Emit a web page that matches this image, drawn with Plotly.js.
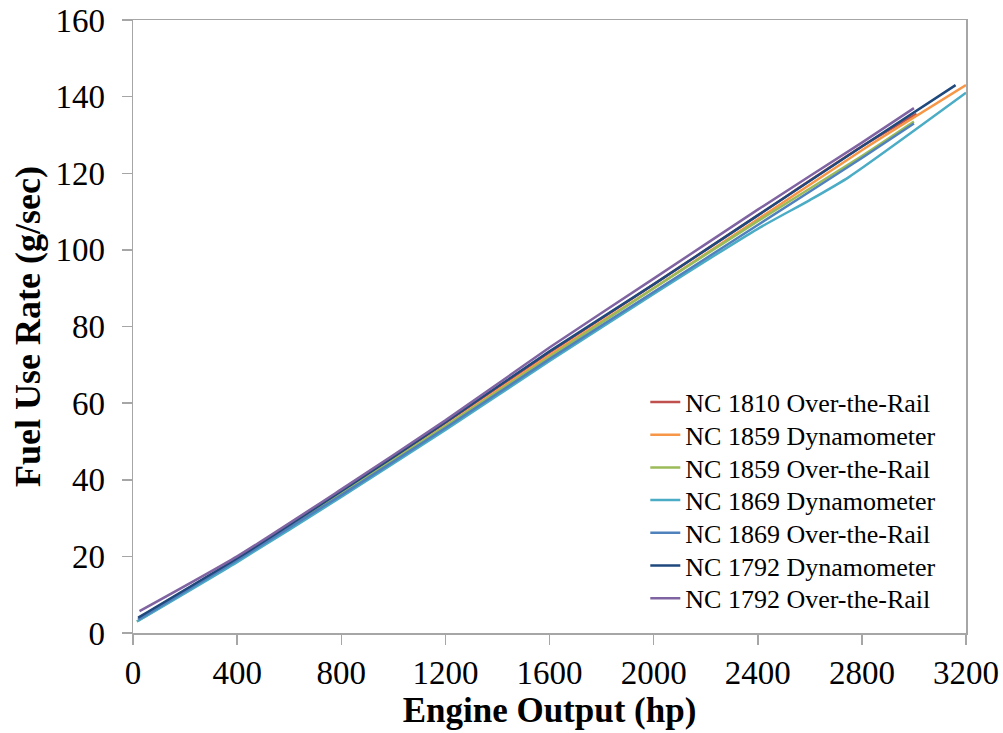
<!DOCTYPE html>
<html>
<head>
<meta charset="utf-8">
<script src="https://cdn.plot.ly/plotly-3.0.1.min.js"></script>
<style>
html,body{margin:0;padding:0;background:#fff;}
#chart{width:1003px;height:733px;}
</style>
</head>
<body>
<div id="chart"></div>
<script>
// Series names
const seriesNames = [
  "NC 1810 Over-the-Rail",
  "NC 1859 Dynamometer",
  "NC 1859 Over-the-Rail",
  "NC 1869 Dynamometer",
  "NC 1869 Over-the-Rail",
  "NC 1792 Dynamometer",
  "NC 1792 Over-the-Rail"
];
const seriesColors = ["#C0504D","#F79646","#9BBB59","#4BACC6","#4F81BD","#1F497D","#8064A2"];

// Engine output (hp) and fuel use rate (g/sec) per series
const x1810otr = [20, 400, 800, 1200, 1600, 2000, 2400, 2800, 3010];
const y1810otr = [3.8, 19.3, 36.8, 54.8, 73.2, 91.0, 109.0, 127.0, 135.5];

const x1859dyn = [20, 400, 800, 1200, 1600, 2000, 2400, 2800, 3200];
const y1859dyn = [3.5, 19.0, 36.0, 54.0, 72.5, 90.0, 108.0, 126.0, 143.0];

const x1859otr = [15, 400, 800, 1200, 1600, 2000, 2400, 2800, 3000];
const y1859otr = [3.0, 19.0, 36.5, 54.0, 72.0, 90.0, 107.5, 124.5, 133.5];

const x1869dyn = [15, 400, 800, 1200, 1600, 2000, 2400, 2600, 2750, 3200];
const y1869dyn = [3.0, 18.5, 35.5, 53.0, 71.0, 88.5, 105.5, 113.0, 119.0, 141.0];

const x1869otr = [20, 400, 800, 1200, 1600, 2000, 2400, 2800, 3000];
const y1869otr = [3.5, 19.0, 36.0, 53.5, 71.5, 89.0, 106.5, 124.0, 133.0];

const x1792dyn = [20, 400, 800, 1200, 1600, 2000, 2400, 2800, 3160];
const y1792dyn = [4.0, 19.5, 37.0, 55.0, 73.5, 91.0, 109.0, 127.0, 143.0];

const x1792otr = [25, 400, 800, 1200, 1600, 2000, 2400, 2800, 3000];
const y1792otr = [5.7, 20.0, 37.5, 55.5, 74.5, 92.5, 110.5, 128.0, 137.0];

const xSets = [x1810otr, x1859dyn, x1859otr, x1869dyn, x1869otr, x1792dyn, x1792otr];
const ySets = [y1810otr, y1859dyn, y1859otr, y1869dyn, y1869otr, y1792dyn, y1792otr];

const xTicks = [0, 400, 800, 1200, 1600, 2000, 2400, 2800, 3200];
const yTicks = [0, 20, 40, 60, 80, 100, 120, 140, 160];

const serif = "Liberation Serif, Times New Roman, serif";

const traces = seriesNames.map((name, i) => ({
  type: "scatter",
  mode: "lines",
  name: name,
  x: xSets[i],
  y: ySets[i],
  line: {color: seriesColors[i], width: 2.5, shape: "spline", smoothing: 0.6}
}));

const layout = {
  width: 1003,
  height: 733,
  paper_bgcolor: "#ffffff",
  plot_bgcolor: "#ffffff",
  margin: {l: 133, r: 37, t: 20, b: 100},
  showlegend: true,
  legend: {
    x: 0.615, y: 0.415, xanchor: "left", yanchor: "top",
    bgcolor: "rgba(0,0,0,0)",
    font: {family: serif, size: 26, color: "#000"},
    tracegroupgap: 0
  },
  xaxis: {
    range: [0, 3200],
    tickvals: xTicks,
    ticktext: xTicks.map(String),
    showgrid: false,
    zeroline: false,
    showline: true,
    linecolor: "#A6A6A6",
    linewidth: 1.5,
    mirror: true,
    ticks: "outside",
    ticklen: 10,
    tickcolor: "#A6A6A6",
    tickwidth: 1.5,
    tickfont: {family: serif, size: 33, color: "#000"},
    title: {text: "<b>Engine Output (hp)</b>", font: {family: serif, size: 35, color: "#000"}, standoff: 4}
  },
  yaxis: {
    range: [0, 160],
    tickvals: yTicks,
    ticktext: yTicks.map(String),
    showgrid: false,
    zeroline: false,
    showline: true,
    linecolor: "#A6A6A6",
    linewidth: 1.5,
    mirror: true,
    ticks: "outside",
    ticklen: 10,
    tickcolor: "#A6A6A6",
    tickwidth: 1.5,
    ticklabelstandoff: 10,
    tickfont: {family: serif, size: 33, color: "#000"},
    title: {text: "<b>Fuel Use Rate (g/sec)</b>", font: {family: serif, size: 36, color: "#000"}, standoff: 4}
  }
};

Plotly.newPlot("chart", traces, layout, {displayModeBar: false, staticPlot: true}).then(gd => {
  // tighten legend row spacing to match reference
  const rows = gd.querySelectorAll(".legend .traces");
  if (!rows.length) return;
  const first = rows[0].getAttribute("transform") || "";
  const m = first.match(/translate\(\s*([-\d.]+)[ ,]+([-\d.]+)\s*\)/);
  if (!m) return;
  const x0 = parseFloat(m[1]), y0 = parseFloat(m[2]);
  const step = 32.7;
  rows.forEach((r, i) => {
    r.setAttribute("transform", "translate(" + x0 + "," + (y0 + i * step) + ")");
  });
});
</script>
</body>
</html>
